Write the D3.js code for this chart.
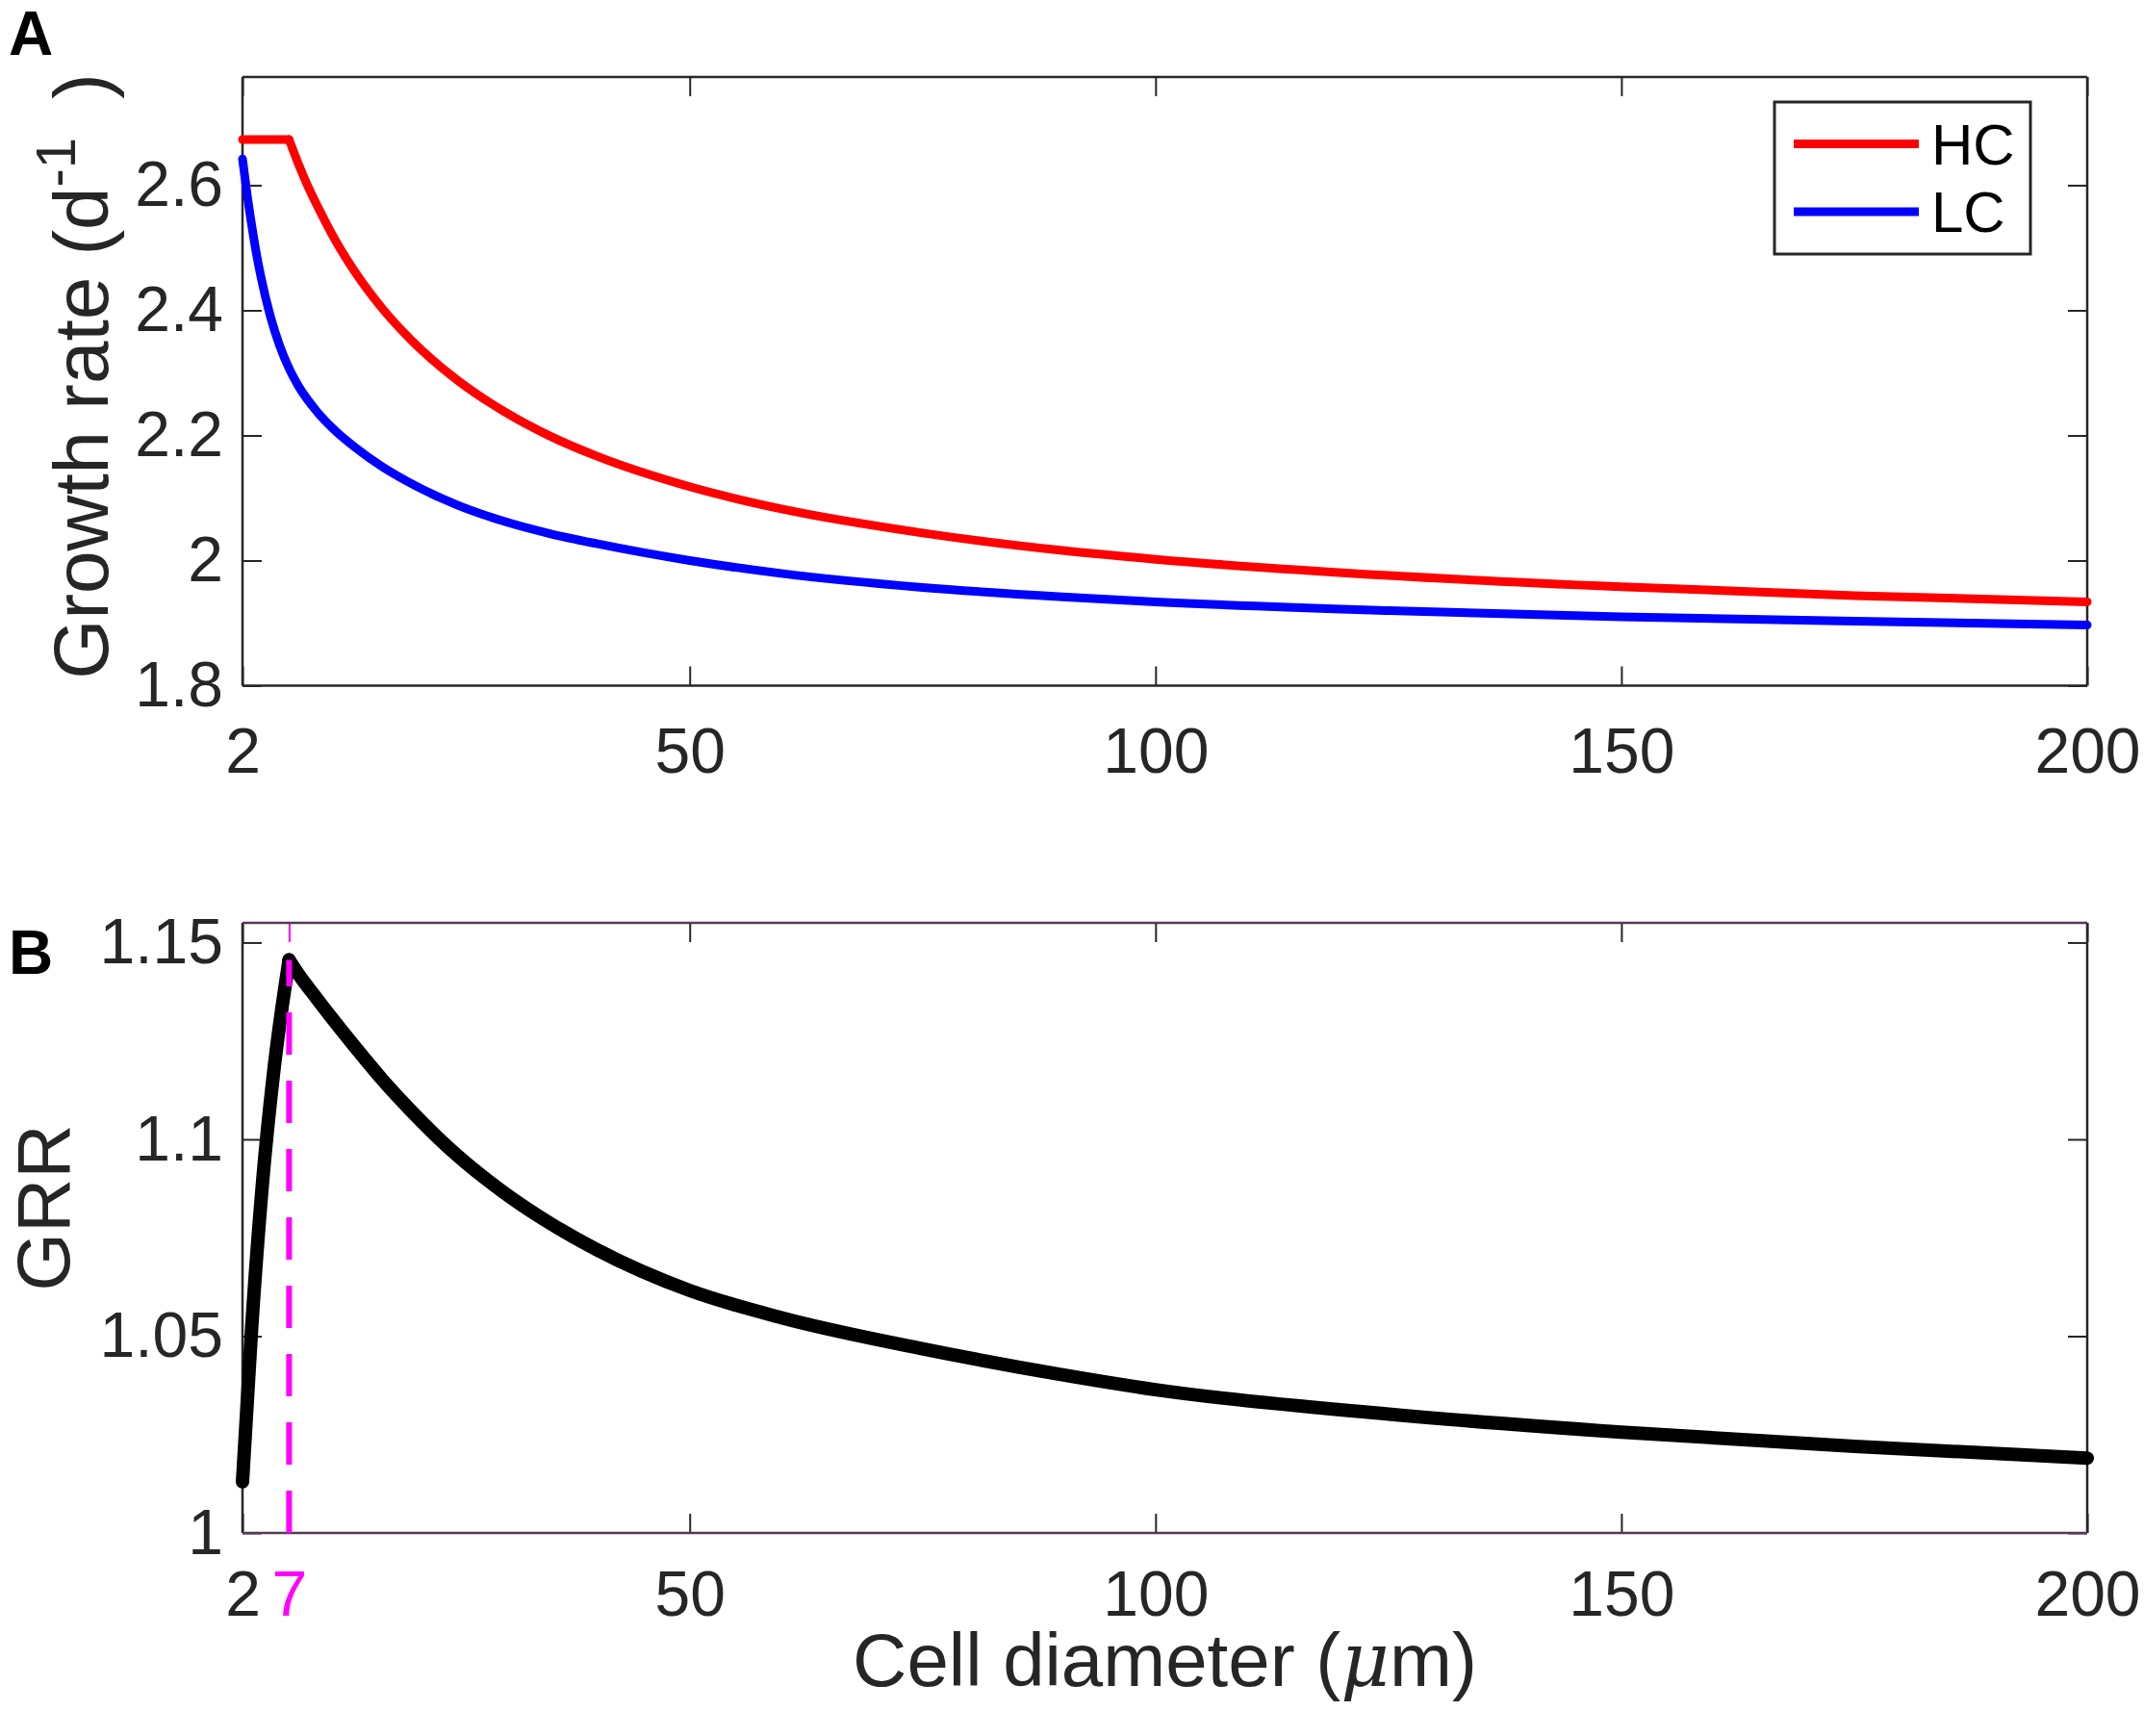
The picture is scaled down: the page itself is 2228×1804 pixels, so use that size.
<!DOCTYPE html>
<html>
<head>
<meta charset="utf-8">
<script src="https://cdn.jsdelivr.net/npm/d3@7"></script>
<style>
  body { margin: 0; background: #fff; }
  text { font-family: "Liberation Sans", Arial, Helvetica, sans-serif; }
</style>
</head>
<body>
<svg id="chart" width="2228" height="1804"></svg>
<script>
// values (cell diameter in um)
var hcDiameter = [2, 7, 8, 9, 10, 12, 14, 17, 20, 25, 30, 35, 40, 50, 60, 75, 90, 100, 125, 150, 175, 200];
var hcGrowth   = [2.673, 2.673, 2.634, 2.599, 2.568, 2.511, 2.463, 2.403, 2.354, 2.289, 2.239, 2.199, 2.167, 2.118, 2.082, 2.044, 2.016, 2.002, 1.976, 1.958, 1.944, 1.934];

var lcDiameter = [2, 2.5, 3, 3.5, 4, 5, 6, 7, 8, 10, 12, 14, 17, 20, 25, 30, 35, 40, 50, 60, 75, 90, 100, 125, 150, 175, 200];
var lcGrowth   = [2.642, 2.585, 2.535, 2.490, 2.452, 2.390, 2.343, 2.307, 2.279, 2.238, 2.207, 2.182, 2.150, 2.124, 2.089, 2.063, 2.043, 2.027, 2.000, 1.979, 1.957, 1.942, 1.934, 1.920, 1.910, 1.903, 1.897];

var grrDiameter = [2, 2.98, 4.16, 5.35, 7, 8, 10, 12, 14, 17, 20, 25, 30, 35, 40, 50, 60, 75, 90, 100, 125, 150, 175, 200];
var grrValue    = [1.013, 1.052, 1.0893, 1.1172, 1.1456, 1.1420, 1.1357, 1.1296, 1.1237, 1.1152, 1.1075, 1.0960, 1.0866, 1.0787, 1.0720, 1.0616, 1.0546, 1.0468, 1.0402, 1.0364, 1.0302, 1.0256, 1.0220, 1.0190];

var optimumDiameter = 7;

var xTicksA = [2, 50, 100, 150, 200];
var xTicksB = [2, 7, 50, 100, 150, 200];
var yTicksA = [1.8, 2, 2.2, 2.4, 2.6];
var yTicksB = [1, 1.05, 1.1, 1.15];

var legendNames  = ["HC", "LC"];
var legendColors = ["#ff0000", "#0000ff"];

var svg = d3.select("#chart");
var AXIS = "#262626";
var MAGENTA = "#ff00ff";
var TICKFONT = 66;

// panel geometry
var left = 252, right = 2169;
var topA = 80, bottomA = 712.5;
var topB = 959, bottomB = 1593;

var x = d3.scaleLinear().domain([2, 200]).range([left, right]);
var yA = d3.scaleLinear().domain([1.8, 2.773]).range([bottomA, topA]);
var yB = d3.scaleLinear().domain([1, 1.155]).range([bottomB, topB]);

function styleAxis(g) {
  g.select(".domain").remove();
  g.selectAll(".tick line").attr("stroke", AXIS).attr("stroke-width", 2);
  g.selectAll(".tick text").attr("font-size", TICKFONT).attr("fill", AXIS)
    .style("font-family", '"Liberation Sans", Arial, sans-serif');
}

function drawFrame(top, bottom, yScale, xTicks, yTicks, hColor, pad) {
  var gs = [];
  // bottom axis with labels
  gs.push(svg.append("g").attr("transform", "translate(0," + bottom + ")")
    .call(d3.axisBottom(x).tickValues(xTicks).tickSizeInner(-20).tickSizeOuter(0)
      .tickPadding(pad).tickFormat(d3.format("~g")))
    .call(styleAxis));
  // top ticks
  gs.push(svg.append("g").attr("transform", "translate(0," + top + ")")
    .call(d3.axisTop(x).tickValues(xTicks).tickSizeInner(-20).tickSizeOuter(0).tickFormat(""))
    .call(styleAxis));
  // left axis with labels
  svg.append("g").attr("transform", "translate(" + left + ",0)")
    .call(d3.axisLeft(yScale).tickValues(yTicks).tickSizeInner(-20).tickSizeOuter(0)
      .tickPadding(20).tickFormat(d3.format("~g")))
    .call(styleAxis);
  // right ticks
  svg.append("g").attr("transform", "translate(" + right + ",0)")
    .call(d3.axisRight(yScale).tickValues(yTicks).tickSizeInner(-20).tickSizeOuter(0).tickFormat(""))
    .call(styleAxis);

  // box
  svg.append("line").attr("x1", left).attr("x2", left).attr("y1", top).attr("y2", bottom)
    .attr("stroke", AXIS).attr("stroke-width", 2.5);
  svg.append("line").attr("x1", right).attr("x2", right).attr("y1", top).attr("y2", bottom)
    .attr("stroke", AXIS).attr("stroke-width", 2.5);
  svg.append("line").attr("x1", left).attr("x2", right).attr("y1", top).attr("y2", top)
    .attr("stroke", hColor).attr("stroke-width", 2.5);
  svg.append("line").attr("x1", left).attr("x2", right).attr("y1", bottom).attr("y2", bottom)
    .attr("stroke", hColor).attr("stroke-width", 2.5);
  return gs;
}

// draw a series as two pieces split at a sharp corner
function drawSplit(data, split, line, color, width) {
  var k = data.findIndex(function(d) { return d[0] === split; });
  [data.slice(0, k + 1), data.slice(k)].forEach(function(part) {
    svg.append("path").datum(part)
      .attr("d", line)
      .attr("fill", "none")
      .attr("stroke", color)
      .attr("stroke-width", width)
      .attr("stroke-linecap", "round")
      .attr("stroke-linejoin", "round");
  });
}

// ---------- Panel A ----------
drawFrame(topA, bottomA, yA, xTicksA, yTicksA, AXIS, 44);

var lineA = d3.line()
  .x(function(d) { return x(d[0]); })
  .y(function(d) { return yA(d[1]); })
  .curve(d3.curveMonotoneX);

var hcData = d3.zip(hcDiameter, hcGrowth);
var lcData = d3.zip(lcDiameter, lcGrowth);

drawSplit(hcData, optimumDiameter, lineA, legendColors[0], 9);
svg.append("path").datum(lcData)
  .attr("d", lineA)
  .attr("fill", "none")
  .attr("stroke", legendColors[1])
  .attr("stroke-width", 9)
  .attr("stroke-linecap", "round")
  .attr("stroke-linejoin", "round");

// legend
var legend = svg.append("g");
legend.append("rect").attr("x", 1844).attr("y", 106).attr("width", 266).attr("height", 158)
  .attr("fill", "#fff").attr("stroke", AXIS).attr("stroke-width", 3);
legendNames.forEach(function(name, i) {
  var ly = 149.5 + i * 70.5;
  legend.append("line").attr("x1", 1864).attr("x2", 1994).attr("y1", ly).attr("y2", ly)
    .attr("stroke", legendColors[i]).attr("stroke-width", 9);
  legend.append("text").attr("x", 2007).attr("y", ly + 21)
    .attr("font-size", 60).attr("fill", "#000").text(name);
});

// y label A
var yLabA = svg.append("text")
  .attr("transform", "translate(112,391) rotate(-90)")
  .attr("text-anchor", "middle")
  .attr("fill", AXIS)
  .attr("font-size", 80);
yLabA.append("tspan").text("Growth rate (d");
yLabA.append("tspan").attr("font-size", 58).attr("dy", -34).text("-1");
yLabA.append("tspan").attr("font-size", 80).attr("dy", 34).text("\u2002)");

svg.append("text").attr("x", 9).attr("y", 57)
  .attr("font-size", 64).attr("font-weight", "bold").attr("fill", "#000").text("A");

// ---------- Panel B ----------
var xAxesB = drawFrame(topB, bottomB, yB, xTicksB, yTicksB, "#553a55", 39);

// optimum tick and label in magenta
xAxesB.forEach(function(g) {
  g.selectAll(".tick").filter(function(d) { return d === optimumDiameter; })
    .each(function() {
      d3.select(this).select("line").attr("stroke", MAGENTA);
      d3.select(this).select("text").attr("fill", MAGENTA);
    });
});

var lineB = d3.line()
  .x(function(d) { return x(d[0]); })
  .y(function(d) { return yB(d[1]); })
  .curve(d3.curveMonotoneX);

var grrData = d3.zip(grrDiameter, grrValue);
drawSplit(grrData, optimumDiameter, lineB, "#000", 14);

// dashed marker at the optimum diameter
var grrPeak = d3.max(grrValue);
svg.append("line")
  .attr("x1", x(optimumDiameter)).attr("x2", x(optimumDiameter))
  .attr("y1", yB(1)).attr("y2", yB(grrPeak))
  .attr("stroke", MAGENTA).attr("stroke-width", 6)
  .attr("stroke-dasharray", "44,27");

svg.append("text")
  .attr("transform", "translate(72,1255) rotate(-90)")
  .attr("text-anchor", "middle")
  .attr("fill", AXIS)
  .attr("font-size", 78).text("GRR");

svg.append("text").attr("x", 9).attr("y", 1012)
  .attr("font-size", 64).attr("font-weight", "bold").attr("fill", "#000").text("B");

// x label
var xLab = svg.append("text")
  .attr("x", (left + right) / 2).attr("y", 1752)
  .attr("text-anchor", "middle")
  .attr("fill", AXIS)
  .attr("font-size", 78);
xLab.append("tspan").text("Cell diameter (");
xLab.append("tspan").attr("font-style", "italic")
  .style("font-family", '"DejaVu Serif", "Liberation Serif", serif').text("\u03bc");
xLab.append("tspan").text("m)");
</script>
</body>
</html>
